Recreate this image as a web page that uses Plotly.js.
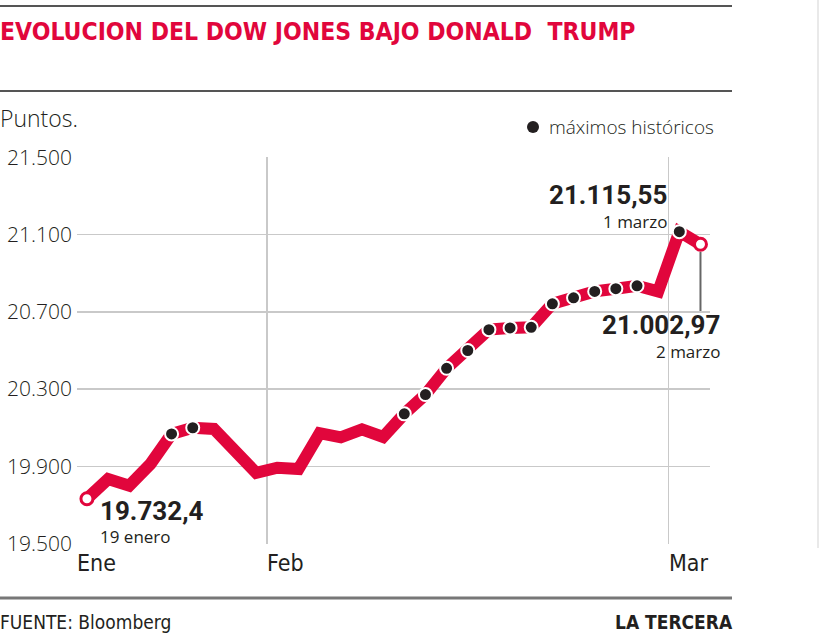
<!DOCTYPE html>
<html>
<head>
<meta charset="utf-8">
<script src="https://cdn.plot.ly/plotly-3.0.1.min.js"></script>
<style>
html,body{margin:0;padding:0;background:#fff;}
#chart{width:820px;height:643px;}
</style>
</head>
<body>
<div id="chart"></div>
<script>
// ---- data ----
const dates = ['19 ene','20 ene','23 ene','24 ene','25 ene','26 ene','27 ene','30 ene','31 ene',
  '1 feb','2 feb','3 feb','6 feb','7 feb','8 feb','9 feb','10 feb','13 feb','14 feb','15 feb',
  '16 feb','17 feb','21 feb','22 feb','23 feb','24 feb','27 feb','28 feb','1 mar','2 mar'];
const values = [19732.4, 19834, 19800, 19912, 20068, 20100, 20094, 19978, 19866,
  19893, 19886, 20072, 20050, 20092, 20052, 20172, 20272, 20408, 20500, 20608,
  20617, 20620, 20742, 20773, 20806, 20820, 20835, 20806, 21115.55, 21050];
const records = [0,0,0,0,1,1,0,0,0, 0,0,0,0,0,0,1,1,1,1,1, 1,1,1,1,1,1,1,0,1,0];
const endpoints = [0, 29];
const monthLabels = ['Ene','Feb','Mar'];
const monthPos = [-0.47, 8.5, 27.5];
const yTicks = [19500, 19900, 20300, 20700, 21100, 21500];
const yTickText = ['19.500','19.900','20.300','20.700','21.100','21.500'];
const startLabel = ['19.732,4','19 enero'];
const maxLabel = ['21.115,55','1 marzo'];
const lastLabel = ['21.002,97','2 marzo'];

// ---- helpers (layout geometry) ----
const L = 77, R = 710, T = 157, B = 544;
const px = p => (p - L) / (R - L);
const py = p => (B - p) / (B - T);

const RED = '#e1063c';
const INK = '#231f20';
const idx = values.map((v, i) => i);

const traces = [
  {x: idx, y: values, mode: 'lines', line: {color: RED, width: 12}, hoverinfo: 'skip', showlegend: false,
   text: dates},
  {x: idx.filter(i => records[i]), y: values.filter((v, i) => records[i]), mode: 'markers',
   marker: {color: INK, size: 13, line: {color: '#fff', width: 2}}, showlegend: false},
  {x: endpoints, y: endpoints.map(i => values[i]), mode: 'markers',
   marker: {color: '#fff', size: 12, line: {color: RED, width: 3}}, showlegend: false}
];

const lightFont = {family: 'Open Sans, Lato, sans-serif', size: 21, color: INK, weight: 300};
const narrow = 'Liberation Sans Narrow, DejaVu Sans Condensed, sans-serif';
const boldNum = {family: 'Roboto, sans-serif', size: 26, color: INK, weight: 700};
const smallFont = {family: 'Open Sans, sans-serif', size: 17, color: INK};

const annotations = [];
monthLabels.forEach((m, i) => annotations.push({
  text: m, x: monthPos[i], xref: 'x', xanchor: 'left', xshift: -2,
  y: py(563), yref: 'paper', yanchor: 'middle', showarrow: false,
  font: {family: narrow, size: 23, color: INK}
}));
annotations.push(
  {text: 'Puntos.', x: px(0), xref: 'paper', xanchor: 'left', xshift: -2, y: py(118), yref: 'paper', yanchor: 'middle',
   showarrow: false, font: {family: 'Open Sans, sans-serif', size: 23, color: INK, weight: 300}},
  {text: 'máximos históricos', x: px(547), xref: 'paper', xanchor: 'left', y: py(127), yref: 'paper', yanchor: 'middle',
   showarrow: false, font: {family: 'Open Sans, sans-serif', size: 19, color: INK, weight: 300}},
  {text: startLabel[0], x: 0, xref: 'x', xanchor: 'left', xshift: 11, y: values[0], yref: 'y', yanchor: 'middle', yshift: -12,
   showarrow: false, font: boldNum},
  {text: startLabel[1], x: 0, xref: 'x', xanchor: 'left', xshift: 11, y: values[0], yref: 'y', yanchor: 'middle', yshift: -38,
   showarrow: false, font: smallFont},
  {text: maxLabel[0], x: 28, xref: 'x', xanchor: 'right', xshift: -10, y: values[28], yref: 'y', yanchor: 'middle', yshift: 37,
   showarrow: false, font: boldNum},
  {text: maxLabel[1], x: 28, xref: 'x', xanchor: 'right', xshift: -10, y: values[28], yref: 'y', yanchor: 'middle', yshift: 10,
   showarrow: false, font: smallFont},
  {text: lastLabel[0], x: 29, xref: 'x', xanchor: 'right', xshift: 22, y: 20700, yref: 'y', yanchor: 'middle', yshift: -13,
   showarrow: false, font: boldNum},
  {text: lastLabel[1], x: 29, xref: 'x', xanchor: 'right', xshift: 22, y: 20700, yref: 'y', yanchor: 'middle', yshift: -40,
   showarrow: false, font: smallFont},
  {text: 'FUENTE: Bloomberg', x: px(0), xref: 'paper', xanchor: 'left', xshift: -2, y: py(622), yref: 'paper', yanchor: 'middle',
   showarrow: false, font: {family: narrow, size: 19, color: INK}},
  {text: 'LA TERCERA', x: px(733), xref: 'paper', xanchor: 'right', xshift: 2, y: py(622), yref: 'paper', yanchor: 'middle',
   showarrow: false, font: {family: narrow, size: 19, color: INK, weight: 700}}
);

const shapes = [
  {type: 'line', xref: 'paper', yref: 'paper', x0: px(0), x1: px(732), y0: py(6), y1: py(6), line: {color: '#555', width: 2}},
  {type: 'line', xref: 'paper', yref: 'paper', x0: px(0), x1: px(732), y0: py(91), y1: py(91), line: {color: '#555', width: 2}},
  {type: 'line', xref: 'paper', yref: 'paper', x0: px(0), x1: px(732), y0: py(598), y1: py(598), line: {color: '#777', width: 3}},
  {type: 'line', xref: 'paper', yref: 'paper', x0: px(818), x1: px(818), y0: py(0), y1: py(548), line: {color: '#e2e2e2', width: 1.5}},
  {type: 'circle', xref: 'paper', yref: 'paper', x0: px(527), x1: px(539), y0: py(121), y1: py(133), fillcolor: INK, line: {width: 0}},
  {type: 'line', xref: 'x', yref: 'y', x0: 29, x1: 29, y0: values[29] - 40, y1: 20700, line: {color: '#666', width: 2}, layer: 'below'}
];

const layout = {
  width: 820, height: 643,
  margin: {l: L, r: 820 - R, t: T, b: 643 - B, pad: 0},
  paper_bgcolor: '#fff', plot_bgcolor: '#fff',
  title: {text: 'EVOLUCION DEL DOW JONES BAJO DONALD  TRUMP', xref: 'container', x: 0, xanchor: 'left',
    yref: 'container', y: 1 - 31 / 643, yanchor: 'middle', pad: {l: 0, r: 0, t: 0, b: 0},
    font: {family: narrow, size: 24.5, color: RED, weight: 700}},
  xaxis: {range: [-0.47, 29.45], tickvals: [8.5, 27.5], showticklabels: false, showgrid: true,
    gridcolor: '#c9c9c9', gridwidth: 1.5, zeroline: false, showline: false, ticks: '', fixedrange: true},
  yaxis: {range: [19498, 21502], tickvals: yTicks, ticktext: yTickText, showgrid: true, gridcolor: '#c9c9c9',
    gridwidth: 1.5, zeroline: false, showline: false, ticks: '', tickfont: lightFont, ticklabelstandoff: 4, fixedrange: true},
  showlegend: false,
  annotations: annotations,
  shapes: shapes
};

Plotly.newPlot('chart', traces, layout, {displayModeBar: false, staticPlot: true});
</script>
</body>
</html>
